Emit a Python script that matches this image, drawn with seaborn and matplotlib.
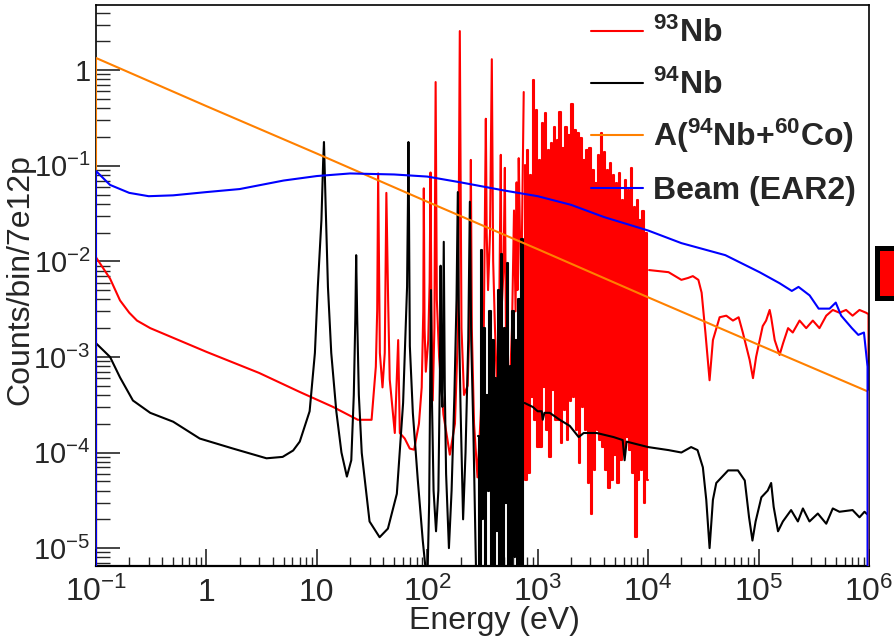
import numpy as np
import matplotlib
matplotlib.use("Agg")
import matplotlib.pyplot as plt
import seaborn as sns
from matplotlib.lines import Line2D
from matplotlib.patches import Rectangle
from matplotlib.ticker import FixedLocator, LogLocator, NullFormatter, FixedFormatter

sns.set_style("white")
plt.rcParams["font.family"] = ["Liberation Sans", "DejaVu Sans"]
plt.rcParams["mathtext.default"] = "regular"

# ---- data (energy in eV, counts/bin/7e12p) ----
# A(94Nb+60Co): straight power law on log-log
act_e = [0.1, 1, 10, 1e2, 1e3, 1e4, 1e5, 1e6]
act_y = [1.34, 0.42, 0.134, 0.042, 0.0134, 0.0042, 0.00134, 0.00043]

# beam (EAR2)
beam_e = [0.1, 0.134, 0.2, 0.3, 0.5, 1, 2, 5, 10, 20, 50, 100, 200, 500, 1e3,
          2e3, 4e3, 1e4, 2e4, 5e4, 1.02e5, 1.55e5, 2.0e5, 2.3e5, 2.9e5, 3.5e5,
          4.4e5, 5.0e5, 5.6e5, 7.0e5, 8.0e5, 9.0e5, 9.7e5]
beam_y = [0.088, 0.063, 0.052, 0.048, 0.049, 0.053, 0.057, 0.070, 0.078, 0.083,
          0.081, 0.077, 0.067, 0.055, 0.048, 0.039, 0.029, 0.021, 0.0155, 0.0116,
          0.0077, 0.0059, 0.0049, 0.0054, 0.0044, 0.0032, 0.0032, 0.0037, 0.0027,
          0.0020, 0.0017, 0.0018, 0.00079]

# 93Nb: smooth part + resolved resonances up to ~750 eV
nb93_low_e = [0.1, 0.134, 0.165, 0.2, 0.235, 0.31, 1, 3, 7, 14, 23.5, 29, 31.3,
              34.2, 35.2, 35.9, 37.2, 39.3, 41.2, 42.6, 44.2, 45.7, 50.8, 54.5,
              56.4, 62.5, 69.4, 76, 84, 89, 92, 93, 94.5, 97, 102, 105, 107, 109,
              112, 116, 119, 122, 128, 140, 160, 178, 190, 197, 204, 215, 232,
              243, 248, 253, 265, 285, 305, 325, 339, 345, 355, 370, 384, 395,
              410, 430, 450, 463, 470, 490, 504, 515, 540, 560, 585, 610, 630,
              644, 656, 673, 690, 710, 747]
nb93_low_y = [0.011, 0.0066, 0.0039, 0.0029, 0.0024, 0.0020, 0.00113, 6.8e-4,
              4.3e-4, 3.0e-4, 2.2e-4, 2.2e-4, 2.2e-4, 7.9e-4, 3.1e-3, 0.083,
              1.1e-3, 4.8e-4, 1.1e-3, 0.052, 3.9e-3, 5.8e-4, 1.6e-4, 1.5e-3,
              1.6e-4, 1.4e-4, 1.1e-4, 1.07e-4, 2.0e-4, 4.8e-4, 3e-3, 0.058, 2e-3,
              7e-4, 1.5e-3, 6e-3, 0.085, 3e-3, 3.5e-4, 2e-3, 0.75, 4e-3, 1e-3,
              2.5e-4, 9.5e-5, 2e-4, 2e-3, 2.56, 2e-3, 4e-4, 5e-4, 3e-3, 0.115,
              2e-3, 2e-4, 5.5e-5, 2.5e-4, 2e-3, 0.31, 0.02, 5e-3, 0.02, 1.3, 0.01,
              2e-3, 4e-4, 5e-3, 0.13, 3e-3, 8e-3, 0.095, 2e-3, 5e-4, 5e-4, 2e-3,
              0.034, 3e-3, 0.067, 5e-3, 0.12, 0.02, 5e-3, 0.59]
# 93Nb unresolved forest, 762 eV - 9.9 keV: alternating bin maxima / minima
nb93_forest_tops = [0.101, 0.146, 0.080, 0.786, 0.382, 0.115, 0.279, 0.355,
                    0.146, 0.172, 0.253, 0.185, 0.364, 0.153, 0.253, 0.209,
                    0.441, 0.236, 0.219, 0.194, 0.115, 0.146, 0.153, 0.090,
                    0.066, 0.129, 0.219, 0.139, 0.090, 0.106, 0.080, 0.066,
                    0.084, 0.044, 0.071, 0.056, 0.094, 0.037, 0.044, 0.027,
                    0.034, 0.0197]
nb93_forest_bots = [5.1e-5, 6.1e-5, 3.8e-4, 2.2e-4, 1.14e-4, 1.14e-4, 4.8e-4,
                    1.7e-4, 9.0e-5, 4.5e-4, 2.2e-4, 2.2e-4, 1.25e-4, 2.8e-4,
                    1.35e-4, 3.5e-4, 3.8e-4, 1.7e-4, 7.7e-5, 3.0e-4, 1.7e-4,
                    4.8e-5, 2.3e-5, 6.5e-5, 1.7e-4, 1.35e-4, 1.14e-4, 6.5e-5,
                    4.3e-5, 5.1e-5, 9.4e-5, 4.8e-5, 8.3e-5, 1.06e-4, 1.45e-4,
                    1.06e-4, 6.1e-5, 1.3e-5, 5.1e-5, 6.5e-5, 3.0e-5, 5.1e-5]
nb93_forest_range = (762, 9890)
nb93_high_e = [1.02e4, 1.53e4, 2.0e4, 2.3e4, 2.54e4, 2.85e4, 3.05e4, 3.3e4,
               3.6e4, 3.86e4, 4.44e4, 5.1e4, 5.86e4, 6.6e4, 7.2e4, 8.3e4, 8.9e4,
               9.5e4, 1.09e5, 1.17e5, 1.26e5, 1.3e5, 1.4e5, 1.55e5, 1.67e5,
               1.85e5, 2.04e5, 2.35e5, 2.7e5, 3.1e5, 3.56e5, 4.1e5, 4.7e5,
               5.4e5, 6.2e5, 7.1e5, 8.2e5, 9.4e5, 9.9e5]
nb93_high_y = [0.0081, 0.0077, 0.0064, 0.0067, 0.0070, 0.0064, 0.0047, 0.0018,
               0.00057, 0.0015, 0.0026, 0.0027, 0.0024, 0.0026, 0.0018, 0.00093,
               0.00060, 0.0010, 0.0021, 0.0024, 0.0031, 0.0026, 0.0015, 0.00105,
               0.0014, 0.0020, 0.0018, 0.0024, 0.0020, 0.0024, 0.0020, 0.0027,
               0.0031, 0.0029, 0.0031, 0.0027, 0.0031, 0.0029, 0.0028]

# 94Nb
nb94_low_e = [0.1, 0.134, 0.165, 0.216, 0.31, 0.5, 0.87, 1.74, 3.5, 4.9, 6.1,
              7.0, 8.6, 9.6, 10.2, 11.0, 11.4, 11.6, 12.0, 12.6, 13.5, 15.0,
              16.7, 18.7, 20.5, 21.6, 22.3, 22.7, 23.2, 24.0, 25.5, 30, 37, 44,
              53, 60.4, 65.6, 66.8, 67.5, 68.3, 69.5, 74, 82, 91, 100, 104, 106,
              108, 110, 114, 120, 126, 130, 132, 134, 137, 141, 144, 148, 157,
              166, 176, 184, 189, 193, 200, 211, 222, 235, 243, 250, 262, 278]
nb94_low_y = [1.39e-3, 1.0e-3, 6.1e-4, 3.5e-4, 2.6e-4, 2.1e-4, 1.4e-4, 1.1e-4,
              8.7e-5, 9.0e-5, 1.05e-4, 1.3e-4, 2.7e-4, 1.1e-3, 5.4e-3, 0.027,
              0.11, 0.177, 0.04, 5.4e-3, 1.1e-3, 2.7e-4, 1.0e-4, 5.6e-5, 8.3e-5,
              4e-4, 2.5e-3, 0.0116, 2.5e-3, 4e-4, 9.9e-5, 1.9e-5, 1.3e-5, 1.6e-5,
              3.7e-5, 3.3e-4, 5.4e-3, 0.04, 0.177, 0.03, 1.3e-3, 2.6e-4, 5.2e-5,
              1.2e-5, 4e-6, 3e-5, 4e-4, 5e-3, 4e-4, 4e-5, 1.5e-5, 4e-5, 6e-4,
              9e-3, 6e-4, 3e-4, 0.016, 5e-4, 6e-5, 1.0e-5, 4e-5, 4e-4, 4e-3,
              0.053, 3e-3, 3e-4, 2e-5, 1e-4, 1.5e-3, 0.042, 1.5e-3, 1.5e-4, 4e-6]
nb94_forest_tops = [1.5e-4, 0.013, 2e-3, 4e-4, 3e-3, 1.5e-3, 6e-4, 5e-3,
                    0.012, 2e-3, 0.0095, 8e-4, 3e-3, 1.5e-3, 4e-3, 0.017]
nb94_forest_bots = [3e-6, 2e-5, 3e-6, 4e-5, 3e-6, 3e-6, 1.5e-5, 3e-6,
                    3e-6, 3e-5, 3e-6, 3e-6, 8e-6, 3e-6, 3e-6, 3e-6]
nb94_forest_range = (290, 740)
nb94_high_e = [760, 901, 1000, 1087, 1110, 1150, 1285, 1582, 1950, 2350, 2607,
               3420, 4870, 5880, 6120, 6380, 1.0e4, 1.53e4, 2.0e4, 2.45e4, 2.8e4,
               3.13e4, 3.36e4, 3.6e4, 3.86e4, 4.14e4, 5.3e4, 6.5e4, 7.5e4, 8.2e4,
               8.8e4, 9.4e4, 1.06e5, 1.21e5, 1.3e5, 1.37e5, 1.5e5, 1.66e5,
               1.97e5, 2.27e5, 2.52e5, 2.89e5, 3.44e5, 4.1e5, 4.7e5, 5.4e5,
               7.1e5, 8.2e5, 9.1e5, 9.9e5]
nb94_high_y = [3.3e-4, 3.0e-4, 2.7e-4, 2.7e-4, 2.2e-4, 2.6e-4, 2.6e-4, 2.2e-4,
               1.9e-4, 1.45e-4, 1.6e-4, 1.6e-4, 1.45e-4, 1.35e-4, 8.3e-5, 1.3e-4,
               1.14e-4, 1.06e-4, 1.0e-4, 1.14e-4, 1.06e-4, 7.0e-5, 3.2e-5, 1.0e-5,
               3.2e-5, 4.8e-5, 6.5e-5, 6.5e-5, 5.1e-5, 2.1e-5, 1.2e-5, 1.9e-5,
               3.4e-5, 4.0e-5, 4.8e-5, 2.7e-5, 1.5e-5, 1.9e-5, 2.5e-5, 1.9e-5,
               2.6e-5, 1.9e-5, 2.3e-5, 1.8e-5, 2.6e-5, 2.4e-5, 2.5e-5, 2.1e-5,
               2.4e-5, 2.2e-5]

x_ticks = [0.1, 1, 10, 1e2, 1e3, 1e4, 1e5, 1e6]
x_labels = ["$10^{-1}$", "1", "10", "$10^{2}$", "$10^{3}$", "$10^{4}$",
            "$10^{5}$", "$10^{6}$"]
y_ticks = [1e-5, 1e-4, 1e-3, 1e-2, 1e-1, 1]
y_labels = ["$10^{-5}$", "$10^{-4}$", "$10^{-3}$", "$10^{-2}$", "$10^{-1}$", "1"]

series_style = [
    ("${}^{93}$Nb", "#ff0000"),
    ("${}^{94}$Nb", "#000000"),
    ("A(${}^{94}$Nb+${}^{60}$Co)", "#ff8000"),
    ("Beam (EAR2)", "#0000ff"),
]

FLOOR = 1e-9  # histogram outline drops to zero at both ends


def forest(rng, tops, bots):
    """Unresolved region: consecutive bins alternate between max and min."""
    e = np.geomspace(rng[0], rng[1], 2 * len(tops))
    v = np.column_stack([tops, bots]).ravel()
    return e, v


def with_edges(e, v, left=True, right=True):
    e = np.asarray(e, float)
    v = np.asarray(v, float)
    if left:
        e, v = np.r_[e[0], e], np.r_[FLOOR, v]
    if right:
        e, v = np.r_[e, e[-1]], np.r_[v, FLOOR]
    return e, v


# each curve: list of (energies, values, drawstyle)
curves = [
    [(*with_edges(nb93_low_e, nb93_low_y, right=False), "default"),
     (*forest(nb93_forest_range, nb93_forest_tops, nb93_forest_bots), "steps-mid"),
     (*with_edges(nb93_high_e, nb93_high_y, left=False), "default")],
    [(*with_edges(nb94_low_e, nb94_low_y, right=False), "default"),
     (*forest(nb94_forest_range, nb94_forest_tops, nb94_forest_bots), "steps-mid"),
     (*with_edges(nb94_high_e, nb94_high_y, left=False), "default")],
    [(*with_edges(act_e, act_y), "default")],
    [(*with_edges(beam_e, beam_y), "default")],
]

fig = plt.figure(figsize=(8.95, 6.37), dpi=100)
ax = fig.add_axes([96 / 895, 1 - 566 / 637, 773 / 895, 561 / 637])
ax.set_xscale("log")
ax.set_yscale("log")

for z, (parts, (lab, col)) in enumerate(zip(curves, series_style)):
    for e, v, ds in parts:
        sns.lineplot(x=e, y=v, estimator=None, sort=False, color=col,
                     linewidth=1.5, drawstyle=ds, ax=ax, zorder=2 + z)

ax.set_xlim(0.1, 1e6)
ax.set_ylim(6.5e-6, 4.8)

ax.xaxis.set_major_locator(FixedLocator(x_ticks))
ax.xaxis.set_major_formatter(FixedFormatter(x_labels))
ax.xaxis.set_minor_locator(LogLocator(base=10, subs=np.arange(2, 10), numticks=30))
ax.xaxis.set_minor_formatter(NullFormatter())
ax.yaxis.set_major_locator(FixedLocator(y_ticks))
ax.yaxis.set_major_formatter(FixedFormatter(y_labels))
ax.yaxis.set_minor_locator(LogLocator(base=10, subs=np.arange(2, 10), numticks=30))
ax.yaxis.set_minor_formatter(NullFormatter())

ax.tick_params(axis="x", which="major", direction="in", length=12, width=1.2,
               labelsize=23, pad=25, top=False, bottom=True)
ax.tick_params(axis="x", which="minor", direction="in", length=6.5, width=1.0,
               top=False, bottom=True)
ax.tick_params(axis="y", which="major", direction="in", length=17, width=1.2,
               labelsize=21, pad=4, left=True, right=False)
ax.tick_params(axis="y", which="minor", direction="in", length=10, width=1.0,
               left=True, right=False)
for t in ax.get_xticklabels():
    t.set_verticalalignment("baseline")

for s in ax.spines.values():
    s.set_color("black")
    s.set_linewidth(1.2)
ax.spines["bottom"].set_linewidth(1.6)

ax.set_xlabel("Energy (eV)", fontsize=23, va="baseline")
ax.xaxis.set_label_coords((494 - 96) / 773, (566 - 629) / 561)
ax.set_ylabel("Counts/bin/7e12p", fontsize=23)
ax.yaxis.set_label_coords((35 - 96) / 773, (566 - 280) / 561)

# legend (no frame, drawn over the data like ROOT's TLegend)
rows = [31, 83, 135, 188]
for row, (lab, col) in zip(rows, series_style):
    yy = 1 - row / 637
    fig.add_artist(Line2D([591 / 895, 643 / 895], [yy, yy], color=col,
                          lw=1.5, transform=fig.transFigure, zorder=10))
    fig.text(653 / 895, 1 - (row + 11) / 637, lab, fontsize=23,
             fontweight="bold", va="baseline", ha="left", zorder=10)

# clipped palette box at the right edge
fig.add_artist(Rectangle((877.5 / 895, 1 - 297.5 / 637), 0.05, 50 / 637,
                         transform=fig.transFigure, facecolor="#ff0000",
                         edgecolor="black", lw=3.6, clip_on=False))

fig.savefig("out.png", dpi=100)
